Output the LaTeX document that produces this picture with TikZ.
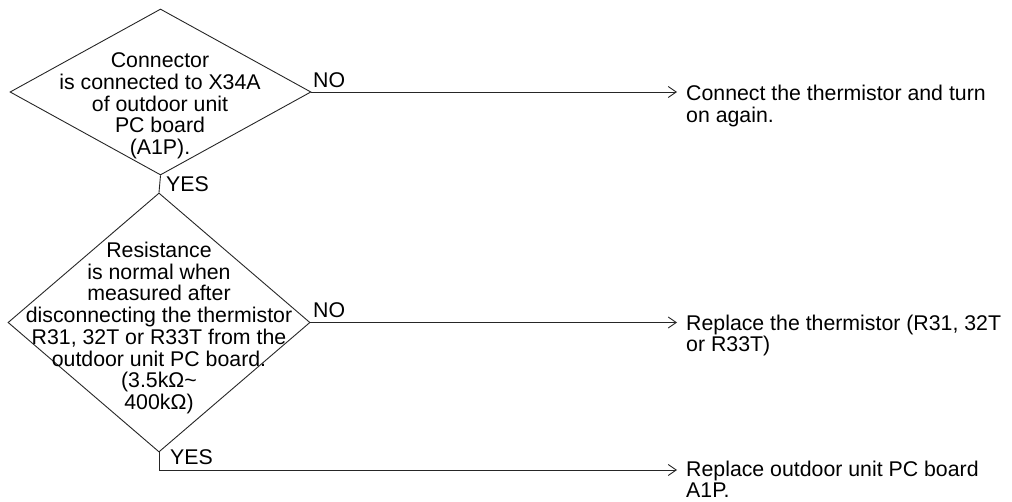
\documentclass[tikz,border=0pt]{standalone}
\usepackage{fontspec}
\setmainfont{Liberation Sans}
\usetikzlibrary{shapes.geometric,arrows.meta}
\begin{document}
\begin{tikzpicture}[x=1pt,y=-1pt,
  ln/.style={line width=0.9pt,draw=black!85},
  dec/.style={ln,shape=diamond,inner sep=0pt},
  txt/.style={inner sep=0pt,font=\fontsize{21.3}{21.7}\selectfont},
  arr/.style={ln,-{Straight Barb[length=8pt,width=11pt,line width=0.9pt]}}]
\useasboundingbox (0,0) rectangle (1012,502);
% decisions
\node[dec,minimum width=301pt,minimum height=166pt] (d1) at (160.5,92) {};
\node[txt,align=center] (d1t) at (160,106) {Connector\\is connected to X34A\\of outdoor unit\\PC board\\(A1P).};
\node[dec,minimum width=302pt,minimum height=259pt] (d2) at (159,322.5) {};
\node[txt,align=center] (d2t) at (159,328) {Resistance\\is normal when\\measured after\\disconnecting the thermistor\\R31, 32T or R33T from the\\outdoor unit PC board.\\(3.5kΩ\textasciitilde\\400kΩ)};
% results
\node[txt,align=left,anchor=north west] (r1) at (686,85) {Connect the thermistor and turn\\on again.};
\node[txt,align=left,anchor=north west] (r2) at (686,314.5) {Replace the thermistor (R31, 32T\\or R33T)};
\node[txt,align=left,anchor=north west] (r3) at (686,460.5) {Replace outdoor unit PC board\\A1P.};
% connectors
\draw[arr] (d1.east) -- ([xshift=-9pt]r1.west |- d1.east);
\draw[ln] (d1.south) -- (d2.north);
\draw[arr] (d2.east) -- ([xshift=-9pt]r2.west |- d2.east);
\coordinate (c3) at (159,470);
\draw[arr] (d2.south) -- (c3) -- ([xshift=-9pt]r3.west |- c3);
% labels
\node[txt,anchor=south west] (no1) at (313,88) {NO};
\node[txt,anchor=west] (yes1) at (166,184) {YES};
\node[txt,anchor=south west] (no2) at (313,318) {NO};
\node[txt,anchor=west] (yes2) at (170,457) {YES};
\end{tikzpicture}
\end{document}
